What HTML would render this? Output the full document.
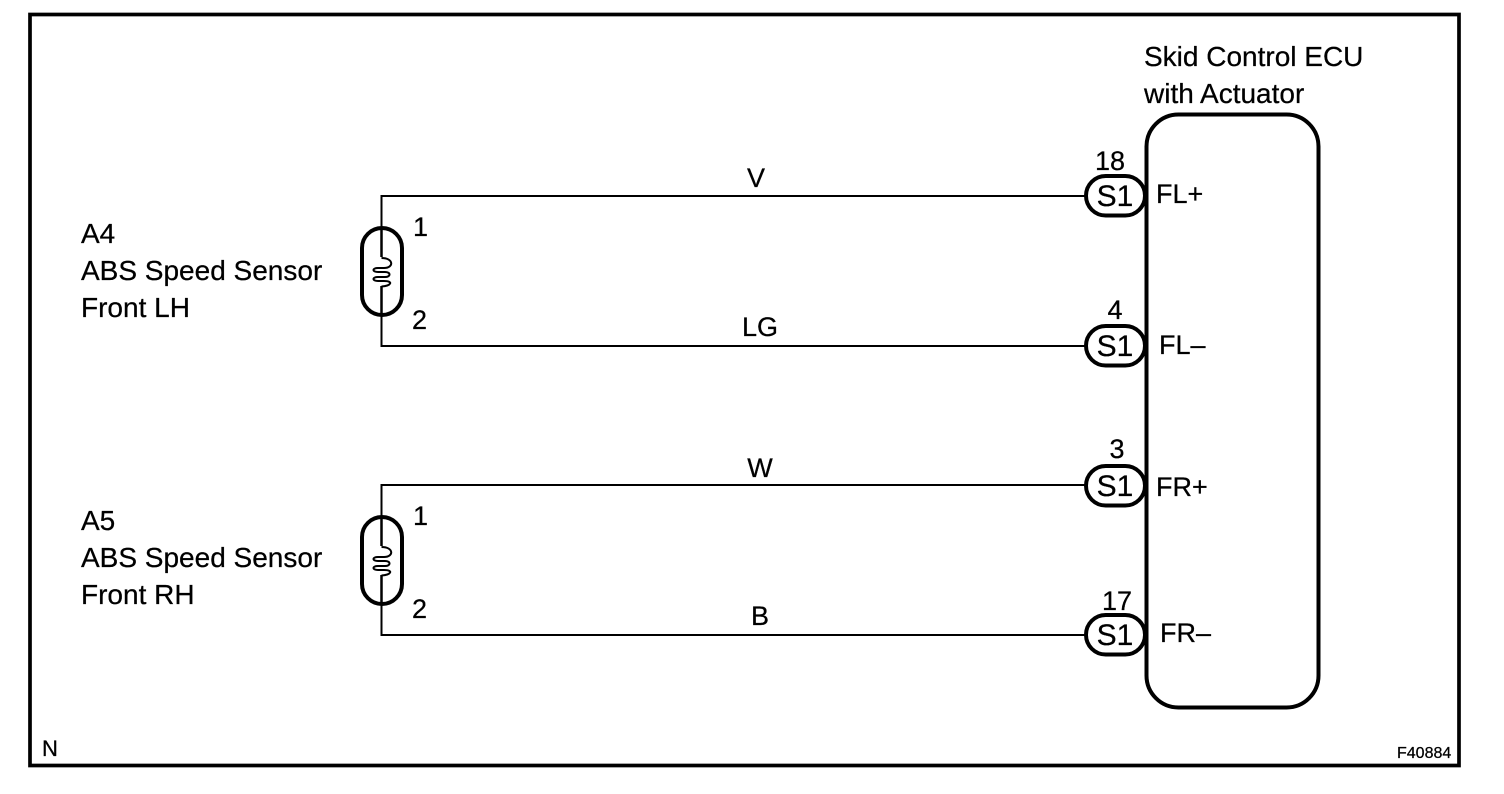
<!DOCTYPE html>
<html>
<head>
<meta charset="utf-8">
<style>
html,body{margin:0;padding:0;background:#fff;width:1504px;height:794px;overflow:hidden}
svg{display:block}
text{font-family:"Liberation Sans",Arial,sans-serif;fill:#000;stroke:#000;stroke-width:.25;font-size:27px}
.l{font-size:28px}
.s{font-size:30px}
</style>
</head>
<body>
<svg width="1504" height="794" viewBox="0 0 1504 794" xmlns="http://www.w3.org/2000/svg">
<rect x="0" y="0" width="1504" height="794" fill="#fff"/>
<rect x="30" y="14.5" width="1429" height="751" fill="none" stroke="#000" stroke-width="3.7"/>

<!-- ECU -->
<rect x="1146.5" y="114.5" width="172" height="593" rx="32" ry="32" fill="#fff" stroke="#000" stroke-width="4"/>

<!-- wires -->
<path d="M381.5 228V196H1086M381.5 316V346H1086" fill="none" stroke="#000" stroke-width="2"/>
<path d="M381.5 517V485H1086M381.5 605V635H1086" fill="none" stroke="#000" stroke-width="2"/>

<!-- sensors -->
<g fill="none" stroke="#000">
<rect x="362" y="228" width="40" height="87" rx="20" ry="20" stroke-width="4"/>
<path d="M381.5 228V257M381.5 286V315" stroke-width="2.5"/>
<path d="M381.5 258C394 258 394 268 384 268H378C372 268 372 272 378 272H385C391 272 391 277 385 277H378C372 277 372 281 378 281H384C394 281 391 286 381.5 286.5" stroke-width="2"/>
<rect x="362" y="517" width="40" height="87" rx="20" ry="20" stroke-width="4"/>
<path d="M381.5 517V546M381.5 575V604" stroke-width="2.5"/>
<path d="M381.5 547C394 547 394 557 384 557H378C372 557 372 561 378 561H385C391 561 391 566 385 566H378C372 566 372 570 378 570H384C394 570 391 575 381.5 575.5" stroke-width="2"/>
</g>

<!-- connectors -->
<g fill="#fff" stroke="#000" stroke-width="4">
<rect x="1086" y="176" width="59" height="39.5" rx="19.7" ry="19.7"/>
<rect x="1086" y="326" width="59" height="39.5" rx="19.7" ry="19.7"/>
<rect x="1086" y="466" width="59" height="39.5" rx="19.7" ry="19.7"/>
<rect x="1086" y="615" width="59" height="39.5" rx="19.7" ry="19.7"/>
</g>
<g text-anchor="middle">
<text class="s" x="1115" y="206">S1</text>
<text class="s" x="1115" y="356">S1</text>
<text class="s" x="1115" y="496">S1</text>
<text class="s" x="1115" y="645">S1</text>
<text x="1110" y="170">18</text>
<text x="1115" y="319">4</text>
<text x="1117" y="458">3</text>
<text x="1117" y="610">17</text>
<text x="756" y="187">V</text>
<text x="760" y="336">LG</text>
<text x="760" y="477">W</text>
<text x="760" y="625">B</text>
</g>
<text x="1156" y="203">FL+</text>
<text x="1159" y="354">FL–</text>
<text x="1156" y="496">FR+</text>
<text x="1160" y="642">FR–</text>
<text class="l" x="1144" y="66">Skid Control ECU</text>
<text class="l" x="1144" y="103">with Actuator</text>

<text class="l" x="81" y="243">A4</text>
<text class="l" x="81" y="280">ABS Speed Sensor</text>
<text class="l" x="81" y="317">Front LH</text>
<text class="l" x="81" y="530">A5</text>
<text class="l" x="81" y="567">ABS Speed Sensor</text>
<text class="l" x="81" y="604">Front RH</text>

<text x="413" y="236">1</text>
<text x="412" y="329">2</text>
<text x="413" y="525">1</text>
<text x="412" y="618">2</text>

<text x="42" y="756" style="font-size:22px">N</text>
<text x="1397" y="758" style="font-size:16px">F40884</text>
</svg>
</body>
</html>
